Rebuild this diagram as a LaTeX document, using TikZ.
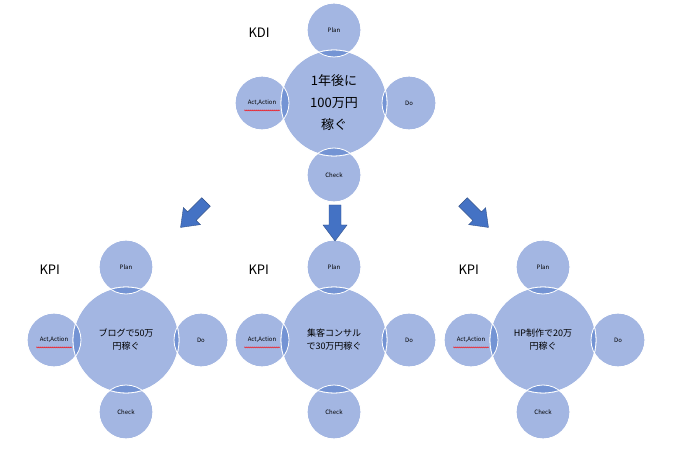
\documentclass[tikz,border=0pt]{standalone}
\usepackage{fontspec}
\setmainfont{Noto Sans CJK JP}
\usetikzlibrary{decorations.pathmorphing}
\definecolor{cl}{HTML}{A3B6E2}
\definecolor{cd}{HTML}{7494D4}
\definecolor{ar}{HTML}{4472C4}
\begin{document}
\begin{tikzpicture}[x=1pt,y=-1pt,
 small/.style={circle,fill=cl,draw=white,line width=0.8pt,minimum size=54pt,inner sep=0pt,font=\fontsize{6}{7}\selectfont},
 big/.style={circle,fill=cl,draw=white,line width=0.8pt,minimum size=106pt,inner sep=0pt,align=center},
 lab/.style={font=\fontsize{13}{14}\selectfont},
 barrow/.style={fill=ar,draw=ar!70!black,line width=0.4pt}]
\useasboundingbox (0,0) rectangle (677,462);
\newcommand\cluster[5]{%
 \node[small] (#1p) at (#2,#3-73) {Plan};
 \node[small] (#1d) at (#2+75,#3) {Do};
 \node[small] (#1c) at (#2,#3+72) {Check};
 \node[small] (#1a) at (#2-72,#3) {};
 \node[big] (#1b) at (#2,#3) {};
 \foreach \s in {p,d,c,a}{
  \begin{scope}
   \clip (#1b.center) circle (53);
   \fill[cd] (#1\s.center) circle (27);
  \end{scope}}
 \draw[white,line width=0.8pt] (#1b.center) circle (53);
 \foreach \s in {p,d,c,a}{\draw[white,line width=0.8pt] (#1\s.center) circle (27);}
 \node[font=\fontsize{6}{7}\selectfont] (#1at) at (#1a.center) {Act,Action};
 \draw[red,line width=0.4pt,decorate,decoration={snake,amplitude=0.6pt,segment length=2pt}] ([yshift=-1pt]#1at.south west) -- ([yshift=-1pt]#1at.south east);
 \node[align=center,#5] (#1t) at (#1b.center) {#4};
}
\cluster{k}{334}{103}{1年後に\\[2pt]100万円\\[2pt]稼ぐ}{font=\fontsize{13}{20}\selectfont}
\cluster{l}{126}{340}{ブログで50万\\円稼ぐ}{font=\fontsize{9}{13}\selectfont}
\cluster{m}{334}{340}{集客コンサル\\で30万円稼ぐ}{font=\fontsize{9}{13}\selectfont}
\cluster{r}{543}{340}{HP制作で20万\\円稼ぐ}{font=\fontsize{9}{13}\selectfont}
\node[lab,anchor=west] (t1) at (245,33) {KDI};
\node[lab,anchor=west] (t2) at (36,270) {KPI};
\node[lab,anchor=west] (t3) at (245,270) {KPI};
\node[lab,anchor=west] (t4) at (455,270) {KPI};
\foreach \x/\y/\r in {335/205/0, 206/202/-45, 463/202/45}{
 \draw[barrow,shift={(\x,\y)},rotate=\r] (-6,0) -- (6,0) -- (6,20) -- (12,20) -- (0,36) -- (-12,20) -- (-6,20) -- cycle;}
\end{tikzpicture}
\end{document}
